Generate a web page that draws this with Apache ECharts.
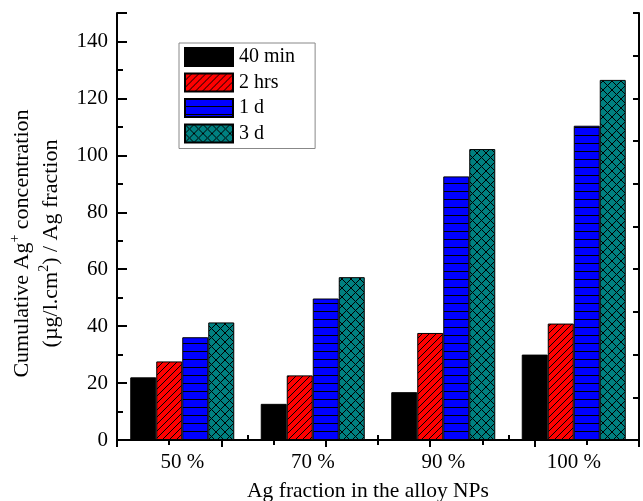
<!DOCTYPE html>
<html>
<head>
<meta charset="utf-8">
<script src="https://cdn.jsdelivr.net/npm/echarts@6/dist/echarts.min.js"></script>
<style>html,body{margin:0;padding:0;background:#fff}#c{width:643px;height:501px}</style>
</head>
<body>
<div id="c"></div>
<script>
const categories = ['50 %', '70 %', '90 %', '100 %'];
const seriesNames = ['40 min', '2 hrs', '1 d', '3 d'];
const v40min = [22.0, 12.7, 16.8, 30.0];
const v2hrs = [27.6, 22.7, 37.6, 40.9];
const v1d = [36.1, 49.7, 92.6, 110.4];
const v3d = [41.3, 57.2, 102.2, 126.5];
const yTickLabels = ['0', '20', '40', '60', '80', '100', '120', '140'];

const FONT = '"Liberation Serif", "Times New Roman", serif';

function pattern(bg, size, draw) {
  const c = document.createElement('canvas');
  c.width = size; c.height = size;
  const ctx = c.getContext('2d');
  ctx.fillStyle = bg; ctx.fillRect(0, 0, size, size);
  ctx.strokeStyle = '#000'; ctx.lineWidth = 1;
  ctx.beginPath();
  draw(ctx, size);
  ctx.stroke();
  return { image: c, repeat: 'repeat' };
}
const colBlack = '#000000';
const colRed = pattern('#ff0000', 7, (ctx, s) => {
  for (const k of [-s, 0, s]) { ctx.moveTo(k, s); ctx.lineTo(k + s, 0); }
});
const colBlue = pattern('#0000ff', 8, (ctx, s) => {
  ctx.moveTo(0, s - 0.5); ctx.lineTo(s, s - 0.5);
});
const colTeal = pattern('#008080', 9, (ctx, s) => {
  for (const k of [-s, 0, s]) { ctx.moveTo(k, s); ctx.lineTo(k + s, 0); ctx.moveTo(k, 0); ctx.lineTo(k + s, s); }
});

const values = [v40min, v2hrs, v1d, v3d];
const colors = [colBlack, colRed, colBlue, colTeal];

const chart = echarts.init(document.getElementById('c'));
const axisLine = { show: true, lineStyle: { color: '#000', width: 2 } };

chart.setOption({
  animation: false,
  textStyle: { fontFamily: FONT },
  grid: { left: 117, right: 4, top: 13, bottom: 61, containLabel: false, outerBoundsMode: 'none' },
  legend: {
    orient: 'vertical', left: 179, top: 43,
    padding: [4, 20, 5, 5],
    itemWidth: 48, itemHeight: 18, itemGap: 5.5,
    borderColor: '#888', borderWidth: 1,
    textStyle: { fontFamily: FONT, fontSize: 20, color: '#000', padding: [0, 0, 0, 1] },
    icon: 'rect',
    data: seriesNames
  },
  xAxis: [{
    type: 'category', data: categories, position: 'bottom',
    axisLine: axisLine,
    axisTick: { show: true, inside: true, length: 5, lineStyle: { color: '#000', width: 2 } },
    axisLabel: { color: '#000', fontSize: 21, fontFamily: FONT, margin: 12 },
    name: 'Ag fraction in the alloy NPs', nameLocation: 'middle', nameGap: 40,
    nameTextStyle: { color: '#000', fontSize: 21.5, fontFamily: FONT, padding: [0, 20, 0, 0] }
  }, {
    type: 'value', position: 'top', min: 0, max: 5, interval: 1,
    axisLine: axisLine,
    axisTick: { show: true, inside: true, length: 7, lineStyle: { color: '#000', width: 2 } },
    minorTick: { show: true, splitNumber: 2, length: 5, lineStyle: { color: '#000', width: 2 } },
    axisLabel: { show: false }, splitLine: { show: false }
  }],
  yAxis: [{
    type: 'value', min: 0, max: 150, interval: 10, position: 'left',
    axisLine: axisLine,
    axisTick: { show: true, inside: true, length: 6, lineStyle: { color: '#000', width: 2 } },
    axisLabel: {
      color: '#000', fontSize: 21, fontFamily: FONT, margin: 9,
      formatter: v => (yTickLabels.indexOf(String(v)) >= 0 ? String(v) : '')
    },
    splitLine: { show: false },
    name: '{a|Cumulative Ag}{s|+}{a| concentration}\n{a|(µg/l.cm}{s|2}{a|) / Ag fraction}',
    nameLocation: 'middle', nameRotate: 90, nameGap: 49,
    nameTextStyle: {
      color: '#000', fontFamily: FONT, fontSize: 22, lineHeight: 29,
      padding: [0, 34, 0, 0],
      rich: {
        a: { fontSize: 22, fontFamily: FONT, color: '#000', lineHeight: 29 },
        s: { fontSize: 14, fontFamily: FONT, color: '#000', padding: [0, 0, 13, 0], lineHeight: 29 }
      }
    }
  }, {
    type: 'value', min: 0, max: 150, interval: 20, position: 'left',
    axisLine: { show: false },
    axisTick: { show: true, inside: true, length: 10, lineStyle: { color: '#000', width: 2 } },
    axisLabel: { show: false }, splitLine: { show: false }
  }, {
    type: 'value', min: 0, max: 150, interval: 15, position: 'right',
    axisLine: axisLine,
    axisTick: { show: true, inside: true, length: 6, lineStyle: { color: '#000', width: 2 } },
    axisLabel: { show: false }, splitLine: { show: false }
  }],
  series: seriesNames.map((n, i) => ({
    name: n, type: 'bar', xAxisIndex: 0, yAxisIndex: 0,
    data: values[i], barWidth: 26, barGap: '0%',
    itemStyle: { color: colors[i], borderColor: '#000', borderWidth: 1 }
  }))
});
</script>
</body>
</html>
